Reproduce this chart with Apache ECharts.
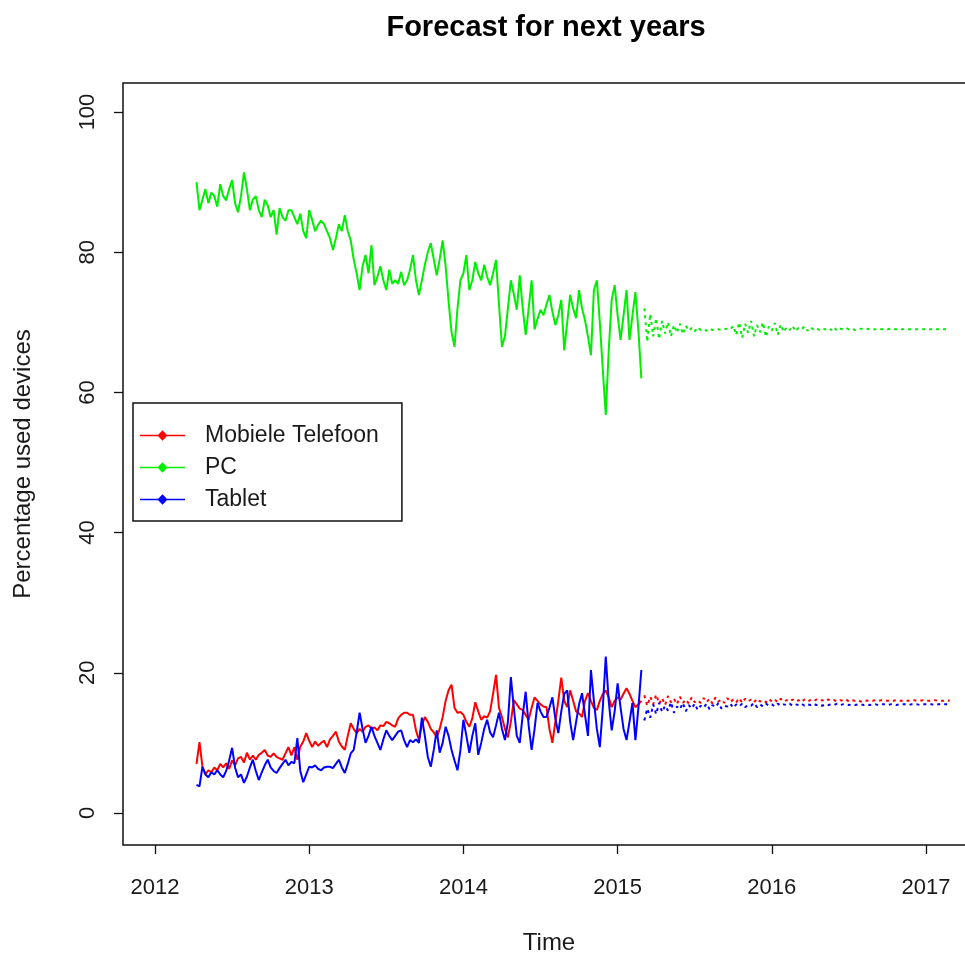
<!DOCTYPE html>
<html>
<head>
<meta charset="utf-8">
<title>Forecast for next years</title>
<script src="https://cdn.jsdelivr.net/npm/echarts@6.0.0/dist/echarts.min.js"></script>
<style>
  html, body { margin: 0; padding: 0; background: #fff; }
  #chart { width: 965px; height: 958px; }
</style>
</head>
<body>
<div id="chart"></div>
<script>
// Weekly share of visits per device type (percent), first observation in week 14 of 2012
const firstWeek = 2012 + 14 / 52;
const weeksPerYear = 52;

const seriesNames = ['Mobiele Telefoon', 'PC', 'Tablet'];
const seriesColors = ['#ff0000', '#00ee00', '#0000ff'];

const yearTicks = [2012, 2013, 2014, 2015, 2016, 2017];
const percentTicks = [0, 20, 40, 60, 80, 100];

const pcObserved = [
  90, 86, 87.5, 89, 87, 88.5, 88, 86.5, 89.7, 88,
  87.4, 89, 90.3, 87, 85.7, 88, 91.4, 89, 86, 87.5,
  88, 86, 85, 87.5, 86.7, 85, 86, 82.5, 86.3, 85,
  84.5, 86, 86, 85, 84, 85.5, 83, 82, 86, 84.6,
  83, 83.9, 84.5, 84, 83, 82, 80.3, 82, 84, 83,
  85.3, 83, 81.7, 79, 77, 74.6, 78, 79.6, 77, 81,
  75.3, 76.5, 78, 76, 74.6, 77.5, 75.5, 76, 75.5, 77.2,
  75.3, 76, 77.5, 79.6, 76, 73.9, 76, 78.2, 80, 81.3,
  79, 76.7, 79, 81.7, 78, 73, 68.6, 66.5, 72, 76,
  77, 79.6, 74.6, 76, 78.6, 77, 76, 78.2, 76.5, 75.3,
  77, 78.9, 72.5, 66.5, 68, 72, 76, 74, 71.8, 76.7,
  72, 68.2, 72, 76, 69, 70.5, 71.8, 71, 72.5, 73.9,
  71.5, 69.6, 71, 73.2, 66, 70, 73.9, 72, 70.6, 74.6,
  72, 70.3, 68, 65.3, 74.6, 76, 70, 63.2, 56.8, 66,
  73.2, 75.3, 71, 67.5, 71, 74.6, 67.5, 71, 74.3, 68.9, 62
];

const mobileObserved = [
  7, 10.1, 6.6, 5.5, 6.1, 5.8, 6.5, 6.1, 7, 6.5,
  7.1, 6.3, 7.5, 6.8, 7.8, 8, 7.2, 8.6, 7.6, 8.2,
  7.6, 8.3, 8.6, 9, 8.2, 8, 8.5, 8, 7.8, 7.6,
  8.5, 9.4, 8.2, 9.4, 7.6, 9.5, 10.2, 11.4, 10.3, 9.4,
  10.2, 9.6, 10, 10.3, 9.4, 10.5, 11, 11.6, 10.2, 9.5,
  9, 11, 12.8, 12, 11.4, 12, 11.6, 12.3, 12.5, 12,
  12.2, 11.8, 12.5, 12.4, 13, 12.8, 12.5, 12.3, 13.5, 14,
  14.3, 14.3, 14, 14, 11.8, 10.4, 12.5, 13.7, 13, 12,
  11.5, 10.8, 12, 13.7, 16, 17.5, 18.3, 15, 14.3, 14.4,
  14, 13, 12.3, 13.5, 15.8, 14.5, 13.3, 13.8, 13.6, 14.5,
  17, 19.7, 15, 13.7, 12, 10.8, 13, 16.1, 15.5, 14.9,
  14.7, 14, 13.3, 15, 16.5, 16, 15.5, 15.2, 15.1, 12,
  10, 13, 16, 19.3, 16, 15.1, 17.5, 16, 14.5, 14.2,
  13.7, 16, 17.1, 16, 15, 14.7, 16, 17, 17.5, 16.5,
  15.1, 16, 16.5, 16.2, 17, 17.8, 17, 16, 15.1, 15.5, 16
];

const tabletObserved = [
  4, 3.8, 6.6, 5.5, 5.1, 5.8, 5.5, 6.1, 5.5, 5.1,
  6, 7.5, 9.3, 6.5, 5.1, 5.5, 4.3, 5.2, 6.5, 7.6,
  6, 4.7, 5.8, 6.8, 7.6, 6.5, 6, 5.7, 6.4, 7,
  7.6, 6.8, 7.3, 7.1, 10.7, 6, 4.4, 5.5, 6.6, 6.5,
  6.8, 6.3, 6.1, 6.5, 6.6, 6.6, 6.4, 7, 7.6, 6.5,
  5.7, 7, 8.5, 9, 11.5, 14.3, 12, 10, 11, 12.3,
  11, 10, 9, 10.5, 11.8, 11, 10.4, 11, 11.6, 11.8,
  10.4, 9.4, 10.4, 10.1, 10.5, 10, 13.6, 11, 8, 6.6,
  9, 11.8, 8.6, 10, 12.3, 11, 9, 7.5, 6.1, 9,
  13.3, 11, 8.6, 11, 12.8, 8.3, 10, 12, 13.3, 11.5,
  10.8, 12.5, 14.3, 12, 10.4, 13, 19.4, 15, 11, 10,
  14, 17.3, 12.5, 9, 12, 15.7, 14.5, 13.7, 13.7, 15,
  16.5, 13.5, 11.4, 14.5, 17, 17.5, 13, 10.4, 13, 15.5,
  17.1, 14, 11, 20.4, 16, 12, 9.4, 15, 22.3, 16,
  11.8, 14.5, 18.5, 15, 12, 10.4, 13, 15.7, 10.4, 15, 20.4
];

// Two-year weekly forecasts that follow the observed period
const pcForecast = [
  72.0, 67.2, 71.2, 68.0, 70.6, 67.6, 70.2, 68.4, 70.0, 68.0,
  69.6, 68.5, 69.8, 68.3, 69.5, 68.8, 69.2, 68.7, 69.3, 68.9,
  69.0, 68.8, 69.1, 68.9, 69.0, 69.0, 68.9, 69.0, 69.1, 69.0,
  69.5, 68.2, 70.0, 67.8, 69.8, 68.5, 70.2, 68.0, 69.6, 68.6,
  70.0, 67.9, 69.4, 68.8, 69.9, 68.2, 69.7, 68.6, 69.3, 68.9,
  69.5, 68.7, 69.2, 69.0, 69.4, 68.8, 69.3, 69.0, 69.2, 68.9,
  69.1, 69.0, 69.2, 68.9, 69.3, 68.8, 69.1, 69.0, 69.2, 69.0,
  69.1, 68.9, 69.0, 69.1, 69.0, 69.0, 69.1, 69.0, 69.0, 69.1,
  69.0, 69.0, 69.0, 69.1, 69.0, 69.0, 69.0, 69.0, 69.0, 69.0,
  69.0, 69.0, 69.0, 69.0, 69.0, 69.0, 69.0, 69.0, 69.0, 69.0,
  69.0, 69.0, 69.0, 69.0
];

const mobileForecast = [
  16.8, 15.3, 16.6, 15.5, 16.9, 15.6, 16.4, 15.4, 16.7, 15.8,
  16.3, 15.5, 16.6, 15.7, 16.2, 15.6, 16.5, 15.8, 16.1, 15.7,
  16.4, 15.8, 16.3, 15.6, 16.5, 15.9, 16.2, 15.7, 16.4, 15.8,
  16.2, 15.8, 16.4, 15.7, 16.3, 15.9, 16.2, 15.8, 16.3, 15.9,
  16.1, 15.8, 16.3, 15.9, 16.2, 15.8, 16.3, 15.9, 16.1, 15.9,
  16.2, 15.9, 16.1, 15.8, 16.2, 15.9, 16.1, 15.9, 16.2, 16.0,
  16.1, 15.9, 16.2, 16.0, 16.1, 15.9, 16.1, 16.0, 16.2, 15.9,
  16.1, 16.0, 16.1, 15.9, 16.1, 16.0, 16.1, 16.0, 16.1, 16.0,
  16.1, 16.0, 16.0, 16.1, 16.0, 16.1, 16.0, 16.0, 16.1, 16.0,
  16.0, 16.1, 16.0, 16.0, 16.1, 16.0, 16.0, 16.0, 16.1, 16.0,
  16.0, 16.0, 16.1, 16.0
];

const tabletForecast = [
  13.2, 14.9, 13.6, 15.5, 14.1, 15.7, 14.4, 15.3, 14.6, 15.8,
  14.3, 15.2, 14.8, 15.7, 14.5, 15.4, 14.9, 15.6, 14.7, 15.3,
  15.0, 15.6, 14.8, 15.4, 15.1, 15.7, 14.9, 15.3, 15.2, 15.6,
  15.0, 15.5, 15.2, 15.6, 15.1, 15.4, 15.3, 15.7, 15.1, 15.5,
  15.2, 15.6, 15.3, 15.5, 15.2, 15.6, 15.3, 15.5, 15.4, 15.6,
  15.3, 15.5, 15.4, 15.6, 15.3, 15.5, 15.4, 15.6, 15.4, 15.5,
  15.3, 15.5, 15.4, 15.5, 15.4, 15.6, 15.4, 15.5, 15.5, 15.4,
  15.5, 15.4, 15.5, 15.5, 15.4, 15.5, 15.4, 15.5, 15.5, 15.4,
  15.5, 15.5, 15.4, 15.5, 15.5, 15.4, 15.5, 15.5, 15.5, 15.4,
  15.5, 15.5, 15.5, 15.4, 15.5, 15.5, 15.5, 15.5, 15.4, 15.5,
  15.5, 15.5, 15.5, 15.5
];

// Pair weekly values with their decimal-year time stamps
function toPoints(values, startTime) {
  return values.map((v, i) => [startTime + i / weeksPerYear, v]);
}

const forecastStart = firstWeek + pcObserved.length / weeksPerYear;

const FONT = "'Liberation Sans', Arial, Helvetica, sans-serif";
const TEXT = '#1a1a1a';

const legendIcon = 'path://M0,6 L45,6 L45,7.3 L0,7.3 Z M22.5,1.5 L27.5,6.65 L22.5,11.8 L17.5,6.65 Z';

function observedSeries(name, color, values) {
  return {
    name: name,
    type: 'line',
    showSymbol: false,
    symbol: 'none',
    data: toPoints(values, firstWeek),
    lineStyle: { color: color, width: 2 },
    itemStyle: { color: color },
    emphasis: { disabled: true }
  };
}

function forecastSeries(name, color, values) {
  return {
    name: name,
    type: 'line',
    showSymbol: false,
    symbol: 'none',
    data: toPoints(values, forecastStart),
    lineStyle: { color: color, width: 2, type: [3, 4] },
    itemStyle: { color: color },
    emphasis: { disabled: true }
  };
}

const chart = echarts.init(document.getElementById('chart'), null, { renderer: 'canvas' });

chart.setOption({
  animation: false,
  backgroundColor: '#ffffff',
  textStyle: { fontFamily: FONT, color: TEXT },
  title: {
    text: 'Forecast for next years',
    left: 541,
    top: 8,
    textAlign: 'center',
    textStyle: { fontFamily: FONT, fontSize: 29, fontWeight: 'bold', color: '#000' }
  },
  grid: {
    left: 123,
    top: 83,
    right: -10,
    bottom: 113,
    outerBoundsMode: 'none',
    containLabel: false,
    show: true,
    borderColor: '#111',
    borderWidth: 1.5,
    backgroundColor: 'transparent'
  },
  legend: {
    orient: 'vertical',
    left: 133,
    top: 403,
    data: seriesNames.map(n => ({ name: n, icon: legendIcon })),
    itemWidth: 45,
    itemHeight: 11,
    itemGap: 9,
    padding: [21, 23, 10, 7],
    borderColor: '#111',
    borderWidth: 1.5,
    backgroundColor: '#fff',
    selectedMode: false,
    itemStyle: { borderWidth: 0 },
    textStyle: { fontFamily: FONT, fontSize: 23, color: TEXT, padding: [0, 0, 0, 15], lineHeight: 22 }
  },
  xAxis: {
    type: 'value',
    min: 2011.7925,
    max: 2017.3175,
    name: 'Time',
    nameLocation: 'middle',
    nameGap: 86,
    nameTextStyle: { fontFamily: FONT, fontSize: 24, color: TEXT },
    axisLine: { show: false, onZero: false },
    splitLine: { show: false },
    axisTick: {
      show: true,
      length: 9,
      customValues: yearTicks,
      lineStyle: { color: '#111', width: 1.3 }
    },
    axisLabel: {
      customValues: yearTicks,
      margin: 32,
      fontSize: 22,
      fontFamily: FONT,
      color: TEXT,
      formatter: v => String(v)
    }
  },
  yAxis: {
    type: 'value',
    min: -4.565,
    max: 104.14,
    name: 'Percentage used devices',
    nameLocation: 'middle',
    nameGap: 88,
    nameTextStyle: { fontFamily: FONT, fontSize: 24, color: TEXT },
    axisLine: { show: false, onZero: false },
    splitLine: { show: false },
    axisTick: {
      show: true,
      length: 9,
      customValues: percentTicks,
      lineStyle: { color: '#111', width: 1.3 }
    },
    axisLabel: {
      customValues: percentTicks,
      rotate: 90,
      margin: 24,
      fontSize: 22,
      fontFamily: FONT,
      color: TEXT,
      formatter: v => String(v)
    }
  },
  series: [
    observedSeries(seriesNames[1], seriesColors[1], pcObserved),
    forecastSeries(seriesNames[1], seriesColors[1], pcForecast),
    observedSeries(seriesNames[0], seriesColors[0], mobileObserved),
    forecastSeries(seriesNames[0], seriesColors[0], mobileForecast),
    observedSeries(seriesNames[2], seriesColors[2], tabletObserved),
    forecastSeries(seriesNames[2], seriesColors[2], tabletForecast)
  ]
});
</script>
</body>
</html>
